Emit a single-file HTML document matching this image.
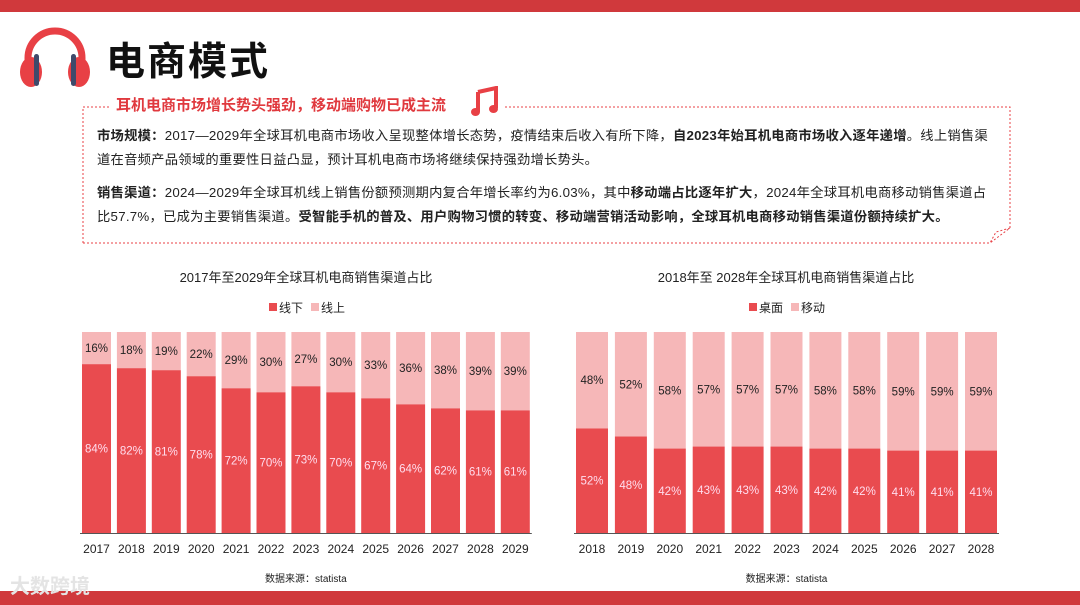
<!DOCTYPE html>
<html><head><meta charset="utf-8">
<style>
body{margin:0;width:1080px;height:605px;overflow:hidden;background:#fff;font-family:"Liberation Sans","Noto Sans CJK SC",sans-serif;position:relative}
.abs{position:absolute}
p{margin:0}
</style></head><body>
<div class="abs" style="left:0;top:0;width:1080px;height:12px;background:#d0393c"></div>
<div class="abs" style="left:0;top:591px;width:1080px;height:14px;background:#d0393c"></div>
<svg class="abs" style="left:18px;top:22px" width="74" height="66" viewBox="0 0 74 66">
<path d="M10 50 V36 A27 27 0 0 1 64 36 V50" fill="none" stroke="#e84045" stroke-width="7"/>
<ellipse cx="13" cy="50" rx="11" ry="15" fill="#e84045"/><ellipse cx="61" cy="50" rx="11" ry="15" fill="#e84045"/>
<rect x="16" y="32" width="5" height="32" rx="2.5" fill="#3f4a6b"/><rect x="53" y="32" width="5" height="32" rx="2.5" fill="#3f4a6b"/>
</svg>
<div class="abs" style="left:106px;top:31px;font-size:39px;font-weight:bold;color:#111;letter-spacing:2px">电商模式</div>
<svg class="abs" style="left:0;top:0" width="1080" height="260">
<path d="M83 243 V107 H110 M505 107 H1010 V228 L990 243 H83" fill="none" stroke="#e84045" stroke-dasharray="2 2" stroke-width="1"/>
<path d="M1010 228 L996 232 L990 243" fill="none" stroke="#e84045" stroke-dasharray="2 2"/>
</svg>
<div class="abs" style="left:116px;top:94px;font-size:15px;font-weight:bold;color:#e0393e">耳机电商市场增长势头强劲，移动端购物已成主流</div>
<svg class="abs" style="left:470px;top:86px" width="32" height="32" viewBox="0 0 32 32">
<path d="M8 6 L26 2 V22" fill="none" stroke="#e84045" stroke-width="4"/>
<path d="M8 6 V26" stroke="#e84045" stroke-width="4"/>
<ellipse cx="5.5" cy="26" rx="4.5" ry="4" fill="#e84045"/><ellipse cx="23.5" cy="23" rx="4.5" ry="4" fill="#e84045"/>
</svg>
<div class="abs" style="left:97px;top:124px;width:896px;font-size:13.3px;letter-spacing:0.25px;color:#222;line-height:24px">
<p><b>市场规模：</b>2017—2029年全球耳机电商市场收入呈现整体增长态势，疫情结束后收入有所下降，<b>自2023年始耳机电商市场收入逐年递增</b>。线上销售渠道在音频产品领域的重要性日益凸显，预计耳机电商市场将继续保持强劲增长势头。</p>
<p style="margin-top:9px"><b>销售渠道：</b>2024—2029年全球耳机线上销售份额预测期内复合年增长率约为6.03%，其中<b>移动端占比逐年扩大</b>，2024年全球耳机电商移动销售渠道占比57.7%，已成为主要销售渠道。<b>受智能手机的普及、用户购物习惯的转变、移动端营销活动影响，全球耳机电商移动销售渠道份额持续扩大。</b></p>
</div>
<div class="abs" style="left:10px;top:570px;font-size:20px;font-weight:bold;color:#e4e4e4">大数跨境</div>
<svg id="chart" class="abs" style="left:0;top:0" width="1080" height="605"></svg>
<script>
const years1=["2017","2018","2019","2020","2021","2022","2023","2024","2025","2026","2027","2028","2029"];
const offline=[84,82,81,78,72,70,73,70,67,64,62,61,61];
const online=[16,18,19,22,29,30,27,30,33,36,38,39,39];
const years2=["2018","2019","2020","2021","2022","2023","2024","2025","2026","2027","2028"];
const desktop=[52,48,42,43,43,43,42,42,41,41,41];
const mobile=[48,52,58,57,57,57,58,58,59,59,59];
const svg=document.getElementById('chart');
const NS='http://www.w3.org/2000/svg';
function mk(t,a,txt){const e=document.createElementNS(NS,t);for(const k in a)e.setAttribute(k,a[k]);if(txt!==undefined)e.textContent=txt;svg.appendChild(e);return e;}
const top0=332,bot=533;
function y(v){return bot-(bot-top0)*v/100;}
function drawChart(cats,dark,light,x0,pitch,bw,title,cx,l1,l2,key){
  let t=mk('text',{x:cx,y:282,'text-anchor':'middle','font-size':13,fill:'#222'},title);
  
  let r=mk('rect',{x:cx-37,y:303,width:8,height:8,fill:'#e94b4f'});
  
  t=mk('text',{x:cx-27,y:312,'font-size':12,fill:'#222'},l1);
  r=mk('rect',{x:cx+5,y:303,width:8,height:8,fill:'#f6b7b8'});
  
  t=mk('text',{x:cx+15,y:312,'font-size':12,fill:'#222'},l2);
  cats.forEach((c,i)=>{
    const x=x0+i*pitch;
    const yd=y(dark[i]);
    let b=mk('rect',{x:x,y:top0,width:bw,height:yd-top0,fill:'#f6b7b8'});
    
    b=mk('rect',{x:x,y:yd,width:bw,height:bot-yd,fill:'#e94b4f'});
    
    let l=mk('text',{x:x+bw/2,y:(top0+yd)/2+4,'text-anchor':'middle','font-size':11.5,fill:'#222'},light[i]+'%');
    
    l=mk('text',{x:x+bw/2,y:(yd+bot)/2+4,'text-anchor':'middle','font-size':11.5,fill:'#fde'},dark[i]+'%');
    
    l=mk('text',{x:x+bw/2,y:553,'text-anchor':'middle','font-size':12,fill:'#222'},c);
    
  });
  const xe=x0+(cats.length-1)*pitch+bw;
  let a=mk('line',{x1:x0-2,x2:xe+2,y1:bot+0.5,y2:bot+0.5,stroke:'#555','stroke-width':1});
  
  t=mk('text',{x:(x0+xe)/2,y:582,'text-anchor':'middle','font-size':10,fill:'#222'},'数据来源：statista');
  
}
drawChart(years1,offline,online,82,34.9,29,'2017年至2029年全球耳机电商销售渠道占比',306,'线下','线上','chart1');
drawChart(years2,desktop,mobile,576,38.9,32,'2018年至 2028年全球耳机电商销售渠道占比',786,'桌面','移动','chart2');
</script>
</body></html>
